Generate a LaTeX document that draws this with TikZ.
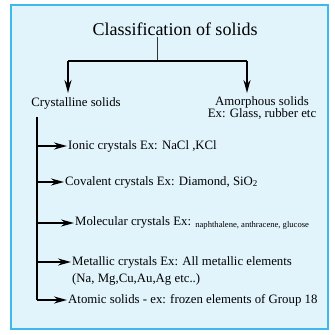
\documentclass[tikz,border=0pt]{standalone}
\usepackage{fontspec}
\setmainfont{Liberation Serif}
\usetikzlibrary{arrows.meta}

\definecolor{panelfill}{HTML}{E1F3FB}
\definecolor{panelline}{HTML}{3DB9EC}

\tikzset{
	txt/.style={anchor=west, inner sep=1pt, font=\fontsize{12.8}{17}\selectfont, align=left},
	arr/.style={line width=1.8pt, -{Stealth[length=13pt, width=7pt]}},
}

\begin{document}
\begin{tikzpicture}[x=1pt,y=-1pt]
			\useasboundingbox (0,0) rectangle (335,335);
			\draw[panelline, fill=panelfill, line width=1.8pt](11,5) rectangle (328,329);
			% heading and the two kinds
			\node (title) at (175,29) {\fontsize{18}{20}\selectfont Classification of solids};
			\node (crys) at (76,103) {\fontsize{12.8}{14}\selectfont Crystalline solids};
			\node[align=center, inner sep=0pt] (amor) at (262,108) {\fontsize{12.8}{14}\selectfont Amorphous solids\\ \fontsize{12.8}{14}\selectfont Ex: Glass, rubber etc};
			\coordinate (stem) at (157,61);
			\coordinate (lturn) at (68,61);
			\coordinate (rturn) at (247,61);
			\draw[line width=0.8pt, black!80](157,37) -- (stem);
			\draw[line width=1.8pt](lturn) -- (rturn);
			\draw[arr](lturn) -- (68,93);
			\draw[arr](rturn) -- (247,93);
			% crystalline types
			\coordinate (trunk) at (37,117);
			\node[txt] (ionic) at (67,146) {Ionic crystals Ex: NaCl ,KCl};
			\node[txt] (coval) at (64,182) {Covalent crystals Ex: Diamond, SiO\textsubscript{2}};
			\node[txt] (molec) at (74,223) {Molecular crystals Ex: \raisebox{-2pt}{\fontsize{8.6}{9}\selectfont naphthalene, anthracene, glucose}};
			\node[txt] (metal) at (71,271) {Metallic crystals Ex: All metallic elements\\(Na, Mg,Cu,Au,Ag etc..)};
			\node[txt] (atomic) at (67,300) {Atomic solids - ex: frozen elements of Group 18};
			\draw[line width=1.8pt](trunk) |- (37,300);
			\draw[arr](trunk |- ionic) -- (ionic.west);
			\draw[arr](trunk |- coval) -- (coval.west);
			\draw[arr](trunk |- molec) -- (molec.west);
			\draw[arr](37,262) -- (metal.west |- 0,262);
			\draw[arr](37,300) -- (atomic.west);
		\end{tikzpicture}
\end{document}
